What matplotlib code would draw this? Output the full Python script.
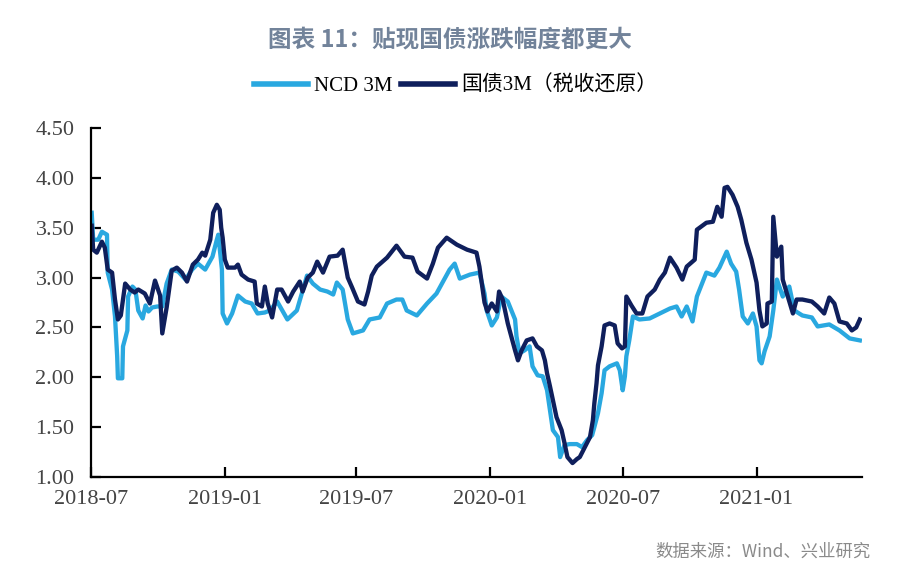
import matplotlib

matplotlib.use("Agg")
import matplotlib.pyplot as plt
import matplotlib.dates as mdates
from matplotlib.font_manager import FontProperties
import pandas as pd

# Series data
govt_dates = [
    "2018-07-02", "2018-07-04", "2018-07-09", "2018-07-16", "2018-07-20", "2018-07-24",
    "2018-07-30", "2018-08-03", "2018-08-07", "2018-08-11", "2018-08-17", "2018-08-24",
    "2018-08-30", "2018-09-04", "2018-09-13", "2018-09-20", "2018-09-27", "2018-10-04",
    "2018-10-07", "2018-10-13", "2018-10-20", "2018-10-27", "2018-11-03", "2018-11-10",
    "2018-11-18", "2018-11-25", "2018-12-01", "2018-12-05", "2018-12-12", "2018-12-16",
    "2018-12-21", "2018-12-25", "2018-12-27", "2018-12-29", "2019-01-01", "2019-01-05",
    "2019-01-15", "2019-01-19", "2019-01-24", "2019-02-02", "2019-02-11", "2019-02-14",
    "2019-02-21", "2019-02-25", "2019-03-01", "2019-03-07", "2019-03-14", "2019-03-20",
    "2019-03-29", "2019-04-05", "2019-04-14", "2019-04-18", "2019-04-25", "2019-05-02",
    "2019-05-08", "2019-05-16", "2019-05-25", "2019-06-05", "2019-06-12", "2019-06-19",
    "2019-06-25", "2019-07-03", "2019-07-12", "2019-07-17", "2019-07-22", "2019-07-29",
    "2019-08-12", "2019-08-25", "2019-09-05", "2019-09-16", "2019-09-23", "2019-10-06",
    "2019-10-14", "2019-10-21", "2019-11-02", "2019-11-16", "2019-11-30", "2019-12-13",
    "2019-12-17", "2019-12-24", "2019-12-28", "2020-01-03", "2020-01-10", "2020-01-13",
    "2020-01-18", "2020-01-25", "2020-02-04", "2020-02-08", "2020-02-13", "2020-02-20",
    "2020-02-28", "2020-03-05", "2020-03-12", "2020-03-16", "2020-03-19", "2020-03-23",
    "2020-03-27", "2020-04-01", "2020-04-08", "2020-04-12", "2020-04-16", "2020-04-23",
    "2020-04-29", "2020-05-03", "2020-05-10", "2020-05-17", "2020-05-21", "2020-05-23",
    "2020-05-26", "2020-05-28", "2020-06-02", "2020-06-06", "2020-06-13", "2020-06-20",
    "2020-06-24", "2020-06-30", "2020-07-04", "2020-07-06", "2020-07-13", "2020-07-20",
    "2020-07-28", "2020-08-04", "2020-08-14", "2020-08-21", "2020-08-28", "2020-09-04",
    "2020-09-13", "2020-09-21", "2020-09-27", "2020-10-08", "2020-10-11", "2020-10-24",
    "2020-11-02", "2020-11-08", "2020-11-14", "2020-11-18", "2020-11-22", "2020-11-29",
    "2020-12-06", "2020-12-11", "2020-12-18", "2020-12-25", "2021-01-01", "2021-01-05",
    "2021-01-09", "2021-01-15", "2021-01-16", "2021-01-22", "2021-01-24", "2021-01-29",
    "2021-02-04", "2021-02-06", "2021-02-13", "2021-02-20", "2021-02-25", "2021-03-05",
    "2021-03-18", "2021-03-26", "2021-04-04", "2021-04-11", "2021-04-18", "2021-04-25",
    "2021-05-05", "2021-05-12", "2021-05-18", "2021-05-23",
]
govt_values = [
    3.52, 3.28, 3.25, 3.36, 3.30, 3.08,
    3.05, 2.78, 2.58, 2.62, 2.94, 2.88,
    2.85, 2.88, 2.84, 2.74, 2.97, 2.82,
    2.44, 2.70, 3.07, 3.10, 3.05, 2.96,
    3.13, 3.18, 3.25, 3.22, 3.38, 3.65,
    3.73, 3.68, 3.50, 3.40, 3.18, 3.10,
    3.10, 3.13, 3.03, 2.98, 2.96, 2.74,
    2.71, 2.91, 2.74, 2.60, 2.88, 2.88,
    2.76, 2.86, 2.96, 2.86, 3.00, 3.05,
    3.16, 3.05, 3.21, 3.22, 3.28, 3.00,
    2.90, 2.76, 2.73, 2.86, 3.02, 3.11,
    3.20, 3.32, 3.21, 3.20, 3.06, 2.99,
    3.14, 3.30, 3.40, 3.33, 3.28, 3.25,
    3.11, 2.75, 2.66, 2.74, 2.66, 2.86,
    2.78, 2.54, 2.27, 2.17, 2.27, 2.37,
    2.39, 2.31, 2.27, 2.17, 2.04, 1.91,
    1.77, 1.60, 1.47, 1.34, 1.20, 1.14,
    1.18, 1.20, 1.30, 1.40, 1.57, 1.74,
    1.94, 2.12, 2.31, 2.52, 2.54, 2.52,
    2.34, 2.29, 2.31, 2.81, 2.72, 2.64,
    2.64, 2.81, 2.88, 2.98, 3.05, 3.20,
    3.10, 2.98, 3.11, 3.18, 3.48, 3.55,
    3.56, 3.71, 3.61, 3.90, 3.91, 3.83,
    3.71, 3.58, 3.35, 3.18, 2.95, 2.67,
    2.51, 2.54, 2.74, 2.76, 3.61, 3.21,
    3.31, 2.98, 2.81, 2.64, 2.78, 2.78,
    2.76, 2.71, 2.64, 2.80, 2.74, 2.56,
    2.54, 2.47, 2.50, 2.58,
]

ncd_dates = [
    "2018-07-02", "2018-07-04", "2018-07-11", "2018-07-16", "2018-07-23", "2018-07-24",
    "2018-07-30", "2018-08-03", "2018-08-06", "2018-08-07", "2018-08-13", "2018-08-14",
    "2018-08-20", "2018-08-21", "2018-08-27", "2018-08-31", "2018-09-04", "2018-09-10",
    "2018-09-14", "2018-09-18", "2018-09-23", "2018-09-30", "2018-10-07", "2018-10-13",
    "2018-10-20", "2018-10-29", "2018-11-08", "2018-11-17", "2018-11-25", "2018-12-05",
    "2018-12-15", "2018-12-21", "2018-12-23", "2018-12-28", "2018-12-29", "2019-01-04",
    "2019-01-11", "2019-01-19", "2019-01-29", "2019-02-07", "2019-02-15", "2019-02-25",
    "2019-03-04", "2019-03-14", "2019-03-28", "2019-04-10", "2019-04-24", "2019-05-02",
    "2019-05-12", "2019-05-22", "2019-05-30", "2019-06-04", "2019-06-12", "2019-06-19",
    "2019-06-26", "2019-07-10", "2019-07-19", "2019-08-02", "2019-08-12", "2019-08-25",
    "2019-09-02", "2019-09-08", "2019-09-22", "2019-10-06", "2019-10-19", "2019-10-28",
    "2019-11-06", "2019-11-13", "2019-11-20", "2019-12-04", "2019-12-17", "2019-12-24",
    "2019-12-27", "2020-01-03", "2020-01-10", "2020-01-16", "2020-01-25", "2020-02-04",
    "2020-02-06", "2020-02-10", "2020-02-17", "2020-02-24", "2020-02-28", "2020-03-06",
    "2020-03-13", "2020-03-19", "2020-03-23", "2020-03-27", "2020-04-03", "2020-04-06",
    "2020-04-12", "2020-04-19", "2020-04-29", "2020-05-06", "2020-05-13", "2020-05-20",
    "2020-05-23", "2020-05-28", "2020-06-02", "2020-06-06", "2020-06-13", "2020-06-23",
    "2020-06-27", "2020-07-01", "2020-07-04", "2020-07-06", "2020-07-10", "2020-07-15",
    "2020-07-24", "2020-08-07", "2020-08-21", "2020-09-04", "2020-09-13", "2020-09-20",
    "2020-09-27", "2020-10-05", "2020-10-11", "2020-10-24", "2020-11-04", "2020-11-11",
    "2020-11-21", "2020-11-27", "2020-12-04", "2020-12-08", "2020-12-13", "2020-12-20",
    "2020-12-27", "2021-01-01", "2021-01-05", "2021-01-08", "2021-01-12", "2021-01-19",
    "2021-01-24", "2021-01-29", "2021-02-06", "2021-02-15", "2021-02-22", "2021-03-05",
    "2021-03-18", "2021-03-26", "2021-04-11", "2021-04-25", "2021-05-09", "2021-05-23",
]
ncd_values = [
    3.65, 3.38, 3.38, 3.46, 3.43, 3.05,
    2.88, 2.61, 2.21, 1.99, 1.99, 2.31,
    2.47, 2.81, 2.91, 2.88, 2.67, 2.59,
    2.72, 2.66, 2.70, 2.71, 2.71, 2.94,
    3.08, 3.06, 2.98, 3.08, 3.14, 3.08,
    3.21, 3.38, 3.43, 3.08, 2.64, 2.54,
    2.64, 2.82, 2.76, 2.74, 2.64, 2.65,
    2.67, 2.76, 2.58, 2.67, 3.02, 2.94,
    2.88, 2.86, 2.83, 2.95, 2.88, 2.58,
    2.44, 2.47, 2.58, 2.60, 2.74, 2.78,
    2.78, 2.67, 2.62, 2.74, 2.84, 2.96,
    3.08, 3.14, 2.99, 3.03, 3.05, 2.84,
    2.67, 2.52, 2.60, 2.81, 2.76, 2.58,
    2.41, 2.24, 2.27, 2.31, 2.11, 2.02,
    2.01, 1.87, 1.67, 1.47, 1.40, 1.20,
    1.32, 1.33, 1.33, 1.30, 1.37, 1.42,
    1.50, 1.64, 1.84, 2.07, 2.11, 2.14,
    2.07, 1.87, 2.01, 2.21, 2.37, 2.61,
    2.58, 2.59, 2.64, 2.69, 2.71, 2.61,
    2.71, 2.56, 2.81, 3.05, 3.02, 3.10,
    3.26, 3.14, 3.06, 2.88, 2.61, 2.54,
    2.64, 2.51, 2.17, 2.14, 2.26, 2.41,
    2.67, 2.98, 2.81, 2.91, 2.67, 2.62,
    2.60, 2.51, 2.53, 2.47, 2.39, 2.37,
]

ncd_label = "NCD 3M"
govt_label = "国债3M（税收还原）"
title_text = "图表 11：贴现国债涨跌幅度都更大"
source_text = "数据来源：Wind、兴业研究"
y_ticks = [1.0, 1.5, 2.0, 2.5, 3.0, 3.5, 4.0, 4.5]

ncd_color = "#29A8E0"
govt_color = "#0F1F5C"

serif_cjk = ["Liberation Serif", "Noto Sans CJK SC"]

fig = plt.figure(figsize=(9, 5.84), dpi=100)
ax = fig.add_axes([0.1011, 0.1832, 0.8567, 0.5976])

ax.plot(pd.to_datetime(ncd_dates), ncd_values, color=ncd_color, linewidth=3.1,
        label=ncd_label, solid_joinstyle="round")
ax.plot(pd.to_datetime(govt_dates), govt_values, color=govt_color, linewidth=3.1,
        label=govt_label, solid_joinstyle="round")

ax.set_xlim(pd.Timestamp("2018-07-01"), pd.Timestamp("2021-05-26"))
ax.set_ylim(1.0, 4.5)
ax.set_yticks(y_ticks)
ax.yaxis.set_major_formatter(matplotlib.ticker.FormatStrFormatter("%.2f"))
ax.xaxis.set_major_locator(mdates.MonthLocator(bymonth=[1, 7]))
ax.xaxis.set_major_formatter(mdates.DateFormatter("%Y-%m"))

for side in ["top", "right"]:
    ax.spines[side].set_visible(False)
for side in ["left", "bottom"]:
    ax.spines[side].set_linewidth(1.6)
    ax.spines[side].set_color("black")

ax.tick_params(axis="both", direction="in", length=7, width=1.6, color="black",
               labelcolor="#444444", labelsize=16)
ax.tick_params(axis="x", pad=9)
ax.tick_params(axis="y", pad=12)
for lbl in ax.get_xticklabels() + ax.get_yticklabels():
    lbl.set_fontfamily("Liberation Serif")

fig.text(0.5, 0.932, title_text, ha="center", va="center", fontsize=17,
         fontweight="bold", color="#72839A", family="Noto Sans CJK SC")

fig.legend(loc="center", bbox_to_anchor=(0.506, 0.853), ncol=2, frameon=False,
           prop=FontProperties(family=serif_cjk, size=15), handlelength=2.6,
           handletextpad=0.3, columnspacing=0.4)
for line in fig.legends[0].get_lines():
    line.set_linewidth(4)

fig.text(0.967, 0.055, source_text, ha="right", va="center", fontsize=12.5,
         color="#8A8A8A", family="Noto Sans CJK SC")

fig.savefig("out.png", dpi=100)
